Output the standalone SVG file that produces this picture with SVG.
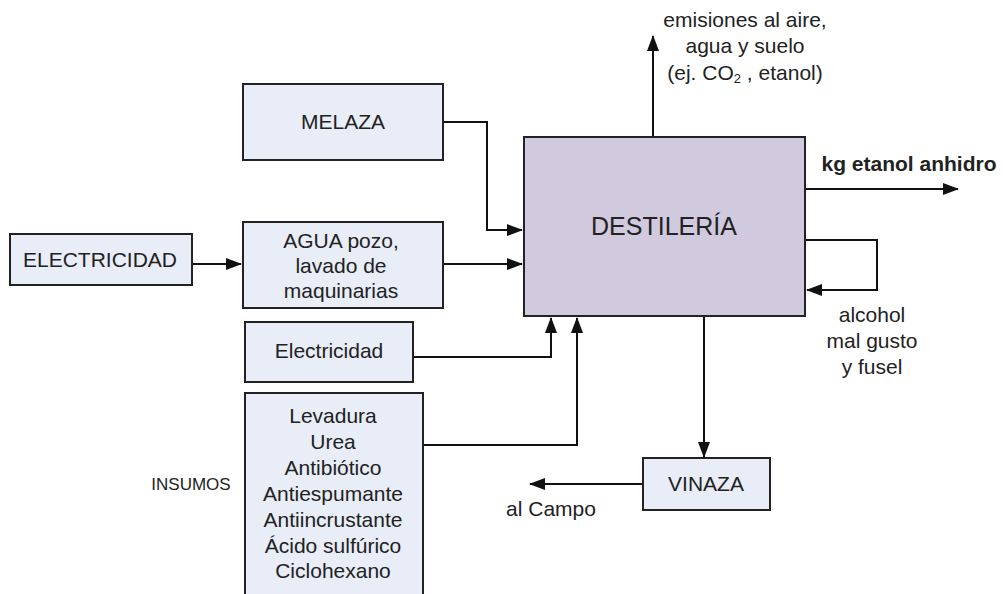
<svg xmlns="http://www.w3.org/2000/svg" width="1003" height="594" viewBox="0 0 1003 594">
<style>
.box{fill:#e8edf7;stroke:#222;stroke-width:2}
.main{fill:#d1c9dd;stroke:#222;stroke-width:2}
.t{font-family:"Liberation Sans",Arial,sans-serif;fill:#222;text-anchor:middle;font-size:21px}
.c{fill:none;stroke:#111;stroke-width:2}
</style>
<defs>
<marker id="ah" markerUnits="userSpaceOnUse" markerWidth="16" markerHeight="12" refX="15" refY="6" orient="auto">
<path d="M0,0 L16,6 L0,12 Z" fill="#111"/>
</marker>
</defs>
<rect width="1003" height="594" fill="#fff"/>
<g id="connectors">
<path class="c" d="M443,122 H487 V230 H522" marker-end="url(#ah)"/>
<path class="c" d="M443,264 H522" marker-end="url(#ah)"/>
<path class="c" d="M192,264 H241" marker-end="url(#ah)"/>
<path class="c" d="M413,357 H551 V318" marker-end="url(#ah)"/>
<path class="c" d="M423,445 H577 V318" marker-end="url(#ah)"/>
<path class="c" d="M653,137 V36" marker-end="url(#ah)"/>
<path class="c" d="M805,189 H958" marker-end="url(#ah)"/>
<path class="c" d="M805,240 H877 V290 H807" marker-end="url(#ah)"/>
<path class="c" d="M704,316 V457" marker-end="url(#ah)"/>
<path class="c" d="M643,484 H530" marker-end="url(#ah)"/>
</g>
<g id="melaza">
<rect class="box" x="243" y="84" width="200" height="76"/>
<text class="t" x="343" y="129">MELAZA</text>
</g>
<g id="agua">
<rect class="box" x="243" y="222" width="200" height="86"/>
<text class="t" x="341" y="248">AGUA pozo,</text>
<text class="t" x="341" y="273">lavado de</text>
<text class="t" x="341" y="298">maquinarias</text>
</g>
<g id="electricidad1">
<rect class="box" x="10" y="234" width="182" height="51"/>
<text class="t" x="100" y="267">ELECTRICIDAD</text>
</g>
<g id="electricidad2">
<rect class="box" x="245" y="322" width="168" height="60"/>
<text class="t" x="329" y="358">Electricidad</text>
</g>
<g id="insumos">
<rect class="box" x="245" y="393" width="178" height="215"/>
<text class="t" x="333" y="423">Levadura</text>
<text class="t" x="333" y="449">Urea</text>
<text class="t" x="333" y="475">Antibiótico</text>
<text class="t" x="333" y="501">Antiespumante</text>
<text class="t" x="333" y="527">Antiincrustante</text>
<text class="t" x="333" y="553">Ácido sulfúrico</text>
<text class="t" x="333" y="578">Ciclohexano</text>
</g>
<g id="insumos-label">
<text class="t" x="191" y="490" style="font-size:17px">INSUMOS</text>
</g>
<g id="destileria">
<rect class="main" x="524" y="137" width="281" height="179"/>
<text class="t" x="664" y="235" style="font-size:25px">DESTILERÍA</text>
</g>
<g id="vinaza">
<rect class="box" x="643" y="458" width="127" height="52"/>
<text class="t" x="706" y="491">VINAZA</text>
</g>
<g id="labels">
<text class="t" x="745" y="27">emisiones al aire,</text>
<text class="t" x="745" y="53">agua y suelo</text>
<text class="t" x="745" y="80">(ej. CO<tspan style="font-size:13px" dy="3">2</tspan><tspan dy="-3"> , etanol)</tspan></text>
<text class="t" x="909" y="171" font-weight="bold">kg etanol anhidro</text>
<text class="t" x="872" y="322">alcohol</text>
<text class="t" x="872" y="348">mal gusto</text>
<text class="t" x="872" y="374">y fusel</text>
<text class="t" x="551" y="516">al Campo</text>
</g>
</svg>
